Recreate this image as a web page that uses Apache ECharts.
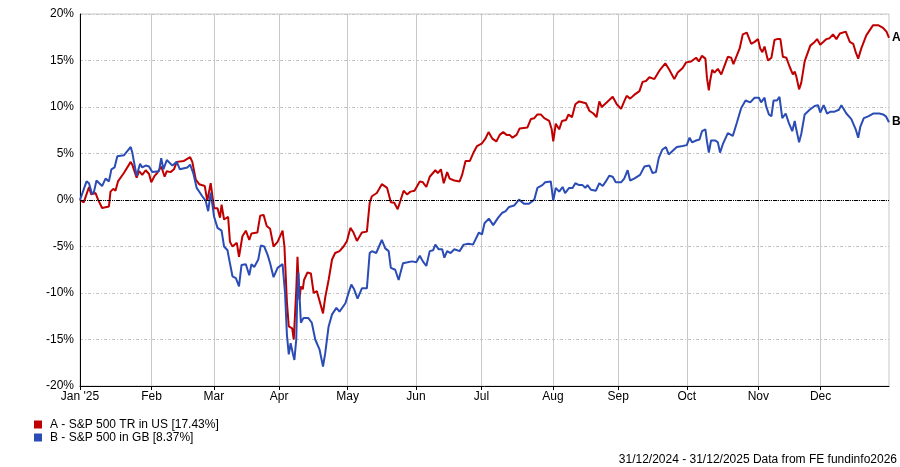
<!DOCTYPE html>
<html><head><meta charset="utf-8">
<script src="https://cdn.jsdelivr.net/npm/echarts@6/dist/echarts.min.js"></script>
<style>html,body{margin:0;padding:0;background:#fff}#c{width:900px;height:467px}</style>
</head><body><div id="c"></div>
<script>
// Weekday categories (trading-day style axis) for 2025
const categories = [];
for (let d = new Date(Date.UTC(2025, 0, 1)); d.getUTCFullYear() === 2025; d.setUTCDate(d.getUTCDate() + 1)) {
  const w = d.getUTCDay();
  if (w !== 0 && w !== 6) categories.push(d.toISOString().slice(0, 10));
}
const monthLabels = ["Jan '25", "Feb", "Mar", "Apr", "May", "Jun", "Jul", "Aug", "Sep", "Oct", "Nov", "Dec"];
const yTicks = [-20, -15, -10, -5, 0, 5, 10, 15, 20];
const seriesNames = ["A - S&P 500 TR in US [17.43%]", "B - S&P 500 in GB [8.37%]"];
const endTags = ["A", "B"];
const footnote = "31/12/2024 - 31/12/2025 Data from FE fundinfo2026";

// [weekday index since 1 Jan 2025, cumulative % return]
const aPoints = [
[0,0],[1.2,-0.25],[2.9,1.4],[3.6,0.6],[5,0.75],[5.8,0.04],[7.1,-0.86],[9.3,-0.7],[9.8,0.9],[10.7,1.2],[11.4,1.0],[12.2,2.0],[14.1,2.9],[16.3,4.1],[16.8,3.8],[18.2,2.4],[19,3.1],[20,2.7],[21.1,3.2],[22.2,2.8],[22.9,1.9],[24,2.6],[24.8,2.9],[26.1,3.6],[27.2,2.5],[27.9,3.1],[29.1,3.0],[30.2,3.3],[31.1,4.1],[33.4,4.2],[35.4,4.6],[36.1,4.1],[37.2,2.2],[38.3,1.7],[40.1,1.5],[40.9,-0.1],[42,1.8],[43.1,-0.9],[44.2,-0.9],[45,-1.9],[45.5,-0.5],[46.3,-2.1],[47.6,-1.8],[48.2,-4.5],[49,-5.0],[50.4,-4.6],[51.1,-6.1],[52.2,-3.9],[53.3,-3.3],[54.4,-4.3],[55.1,-3.6],[57,-3.5],[57.9,-1.7],[59,-1.6],[60,-2.8],[61.1,-3.1],[62.2,-5.0],[63.5,-4.5],[65.1,-3.3],[65.7,-5.0],[66.5,-11.0],[67.1,-13.6],[68.2,-13.8],[68.7,-15.0],[69.5,-9.7],[69.9,-6.1],[70.5,-10.7],[71,-9.3],[71.6,-9.6],[72,-8.6],[73.1,-7.8],[74.2,-7.9],[75.1,-10.0],[76.1,-9.8],[77.2,-11.1],[78.1,-12.2],[78.8,-10.5],[79.9,-8.6],[81,-6.4],[82,-5.7],[83.4,-5.5],[84.7,-5.0],[85.8,-4.4],[86.9,-3.0],[87.9,-3.5],[89,-4.4],[90.6,-3.5],[92.2,-3.4],[93.1,-0.3],[93.8,0.4],[95.4,0.75],[97,1.7],[98.7,1.3],[99.9,-0.25],[101,-0.3],[102.1,-1.0],[104,1.0],[105.1,0.6],[106.2,0.9],[107.5,1.0],[109.2,2.0],[110.2,1.9],[111.3,1.4],[112.4,2.5],[114.2,3.2],[115,2.9],[116,3.3],[116.9,1.8],[118,3.0],[118.8,2.3],[120.3,2.1],[122,2.0],[122.8,2.7],[123.9,4.2],[125.3,4.2],[126.6,5.2],[127.6,5.8],[129.2,6.1],[130.3,6.6],[131.3,7.3],[132.5,6.6],[133.8,6.3],[134.9,7.0],[136,7.3],[137.1,7.0],[138.1,7.0],[139,6.7],[140.3,7.0],[141.3,7.7],[143.8,7.8],[144.9,8.7],[146,8.8],[147,9.2],[148.1,9.2],[149.2,8.8],[150.8,8.5],[151.6,7.6],[152.1,6.3],[152.9,8.2],[154,7.6],[154.9,8.5],[156.2,8.6],[157,9.2],[158.1,8.9],[159.2,10.3],[160.4,10.6],[162.6,10.4],[163.7,9.6],[165,9.3],[166,8.9],[166.9,10.6],[167.7,10.0],[169.6,10.6],[171.2,11.1],[172.5,10.3],[173.9,9.8],[174.9,10.6],[175.7,11.2],[176.8,10.9],[178.1,11.3],[179.8,11.7],[180.8,12.7],[181.9,12.8],[183,13.2],[184.6,13.0],[186.4,14.0],[188.1,14.7],[189.4,14.0],[191,13.0],[192.1,13.7],[193.7,14.2],[194.8,14.8],[196.4,14.9],[198,15.3],[198.9,14.9],[199.9,15.5],[201,15.2],[201.5,13.1],[202.1,11.8],[202.5,12.8],[203.2,14.0],[203.9,13.7],[205,14.1],[206.1,13.5],[208.2,15.4],[209.3,15.3],[210,14.6],[212,16.3],[213,17.8],[214.3,18.0],[215.7,16.8],[216.8,17.0],[217.9,17.3],[218.6,16.3],[219.3,15.9],[220,16.5],[221.1,15.0],[222.2,15.3],[223.2,17.2],[224,17.3],[225.1,17.3],[225.9,15.4],[227,15.3],[228.1,14.3],[229.1,13.5],[229.7,13.8],[230.2,13.3],[231.1,11.9],[231.8,12.6],[232.9,14.9],[234.7,16.6],[236.1,17.0],[236.9,17.3],[237.9,16.7],[239.9,17.3],[240.9,17.4],[242,17.8],[243.1,17.3],[244.2,17.9],[246.1,18.1],[247.4,17.0],[248.5,16.8],[249.3,15.9],[250.1,15.2],[251.1,16.3],[252.7,17.7],[254.9,18.8],[256.5,18.8],[258.1,18.5],[259.2,18.1],[260,17.43]
];
const bPoints = [
[0,0],[2.1,2.0],[2.9,1.8],[3.9,0.6],[4.5,0.9],[5.3,2.1],[7.1,1.5],[8.2,2.3],[9.3,2.0],[10.1,3.3],[11.1,3.5],[12,4.7],[14.1,4.8],[16.3,5.7],[16.8,5.1],[18.2,2.6],[19.3,3.9],[20,3.5],[21.1,3.7],[22.2,3.6],[23.2,3.0],[25.4,3.1],[26.1,4.5],[26.8,3.3],[27.9,4.3],[29.7,3.7],[31.1,4.1],[32.1,3.3],[34.5,3.5],[35.4,3.8],[36.4,2.9],[37.5,1.3],[39.3,0.4],[40.4,-0.1],[41.2,-1.2],[42,0.8],[43.1,-1.8],[44.2,-3.0],[45.5,-3.3],[46.3,-5.0],[47.4,-5.4],[47.9,-6.3],[49,-8.2],[50.1,-8.4],[51.1,-9.3],[51.9,-7.0],[53.3,-6.9],[54.4,-8.1],[55.1,-6.9],[56,-7.2],[57.3,-6.4],[58.1,-4.9],[59.2,-5.0],[60.3,-5.9],[61.1,-6.8],[62.2,-8.3],[63.5,-7.3],[65.1,-6.9],[65.9,-10.0],[66.5,-14.5],[67.1,-16.6],[67.7,-15.4],[68.4,-16.5],[68.9,-17.2],[69.5,-15.0],[69.8,-10.7],[70.2,-7.8],[70.5,-10.0],[71,-13.2],[71.8,-12.7],[72.4,-12.5],[73.4,-12.7],[74.5,-13.2],[75.6,-15.0],[76.1,-15.0],[77,-16.1],[78.1,-17.9],[78.8,-16.5],[79.9,-13.6],[81,-12.3],[82.4,-11.6],[83.4,-12.0],[85.3,-11.1],[86.3,-10.0],[87.2,-9.1],[88.1,-9.6],[89.2,-10.6],[90.6,-9.5],[92.2,-9.5],[93.1,-5.7],[93.8,-5.5],[95.2,-5.7],[97,-4.3],[98.1,-5.2],[99.2,-5.5],[99.9,-7.3],[101.3,-7.5],[102.4,-8.6],[103.8,-6.8],[105.3,-6.7],[106.7,-6.6],[108.1,-6.7],[109.2,-6.0],[110.2,-6.6],[111.3,-7.1],[112.4,-5.5],[113.5,-5.4],[114.2,-4.8],[115.3,-5.3],[116.4,-5.3],[117.1,-6.2],[118,-5.5],[119.1,-5.7],[120.3,-5.3],[122,-5.5],[123.3,-4.8],[124.9,-4.7],[126.3,-4.8],[128.2,-3.5],[129.2,-3.7],[130,-2.5],[131.4,-2.0],[132.8,-2.7],[134.4,-1.9],[135.6,-1.4],[136.8,-1.2],[137.9,-0.75],[139.5,-0.6],[141.1,0.04],[142.7,-0.4],[144.3,-0.4],[146,0.04],[147,1.3],[148.6,1.6],[149.5,1.9],[151.3,2.0],[152.1,-0.1],[152.9,1.3],[154,0.9],[155.1,1.4],[155.9,0.75],[157.2,1.3],[158.3,1.3],[159.2,1.8],[160.4,1.6],[161.5,1.6],[162.4,1.3],[163.1,1.6],[164.2,1.1],[165.8,1.0],[166.9,1.8],[168,1.5],[169,2.0],[170.1,2.6],[171.2,2.5],[172.2,1.9],[173.9,1.9],[174.9,2.3],[176,3.2],[176.8,2.1],[178.1,2.3],[180,2.7],[181.4,3.6],[183,3.7],[184,2.9],[185.1,3.0],[186,4.5],[187.1,5.4],[188.3,5.7],[189.2,4.9],[190.5,5.3],[191.8,5.7],[193.7,5.8],[195,5.9],[195.9,6.7],[196.7,6.2],[198,6.4],[199.1,6.5],[199.9,7.4],[201,7.6],[201.5,6.3],[202.1,5.1],[202.8,6.4],[204.2,6.4],[205,6.2],[205.7,5.1],[206.6,6.0],[208.2,7.2],[209.8,6.9],[211.1,8.3],[212.5,9.9],[213.9,10.7],[215.4,10.5],[216.8,11.0],[218.2,11.0],[218.9,10.5],[220,11.0],[220.5,10.1],[221.4,9.2],[222.2,9.0],[222.9,10.7],[224,10.7],[224.8,11.1],[225.7,8.8],[226.8,9.3],[227.8,8.3],[228.9,7.4],[229.7,8.5],[230.2,7.6],[231.1,6.2],[231.8,7.1],[232.9,9.2],[234.5,9.7],[236.1,10.1],[237.2,10.2],[237.9,9.4],[239,10.2],[240.1,9.3],[241.2,9.5],[242.5,9.5],[243.9,9.7],[244.7,10.2],[246.3,9.3],[247.9,8.7],[249.3,7.6],[250.1,6.7],[250.8,7.9],[251.9,8.8],[253.3,9.0],[254.9,9.3],[256.9,9.3],[258.1,9.2],[259,9.0],[260,8.37]
];

const FONT = 'Arial, "Liberation Sans", sans-serif';
const isMonthStart = (i) => i === 0 || categories[i].slice(5, 7) !== categories[i - 1].slice(5, 7);

const chart = echarts.init(document.getElementById('c'), null, { renderer: 'canvas' });
chart.setOption({
  animation: false,
  backgroundColor: '#fff',
  textStyle: { fontFamily: FONT },
  grid: { left: 80, right: 11, top: 14, bottom: 81, show: true, borderColor: '#c8c8c8', borderWidth: 1, backgroundColor: 'transparent' },
  legend: {
    orient: 'vertical', left: 34, top: 418.5, padding: 0, itemWidth: 8, itemHeight: 8, itemGap: 1, icon: 'rect',
    data: seriesNames,
    textStyle: { color: '#000', fontSize: 12, fontFamily: FONT, lineHeight: 12, padding: [0, 0, 0, 3] }
  },
  graphic: [{
    type: 'text', right: 3, top: 454,
    style: { text: footnote, font: '12px ' + FONT, fill: '#000' }
  }],
  xAxis: [{
    type: 'category', data: categories, boundaryGap: false, position: 'bottom',
    axisLine: { show: true, onZero: false, lineStyle: { color: '#000', width: 1 } },
    axisTick: { show: true, length: 4, interval: (i) => isMonthStart(i), lineStyle: { color: '#000' } },
    axisLabel: { interval: (i) => isMonthStart(i), color: '#000', fontSize: 12, fontFamily: FONT, margin: 5,
      formatter: (v) => monthLabels[parseInt(v.slice(5, 7), 10) - 1] },
    splitLine: { show: true, interval: (i) => isMonthStart(i), lineStyle: { color: '#c8c8c8', width: 1, type: 'solid' } }
  }, {
    type: 'value', min: 0, max: categories.length - 1, show: false
  }],
  yAxis: {
    type: 'value', min: -20, max: 20, interval: 5,
    axisLine: { show: true, onZero: false, lineStyle: { color: '#000', width: 1 } },
    axisTick: { show: false },
    axisLabel: { color: '#000', fontSize: 12, fontFamily: FONT, margin: 6, formatter: '{value}%',
      customValues: yTicks },
    splitLine: { show: true, lineStyle: { color: '#c4c4c4', width: 1, type: [3, 2, 1, 2] } }
  },
  series: [{
    name: seriesNames[0], type: 'line', xAxisIndex: 1, data: aPoints,
    symbol: 'none', showSymbol: false, color: '#c00000',
    lineStyle: { color: '#c00000', width: 2 },
    endLabel: { show: true, formatter: endTags[0], color: '#000', fontWeight: 'bold', fontSize: 12, fontFamily: FONT, distance: 3 },
    markLine: {
      silent: true, symbol: ['none', 'none'], label: { show: false },
      lineStyle: { color: '#000', width: 1, type: [4, 1, 1, 1, 1, 1] },
      data: [{ yAxis: 0 }]
    }
  }, {
    name: seriesNames[1], type: 'line', xAxisIndex: 1, data: bPoints,
    symbol: 'none', showSymbol: false, color: '#2a4cb4',
    lineStyle: { color: '#2a4cb4', width: 2 },
    endLabel: { show: true, formatter: endTags[1], color: '#000', fontWeight: 'bold', fontSize: 12, fontFamily: FONT, distance: 3 }
  }]
});
</script>
</body></html>
